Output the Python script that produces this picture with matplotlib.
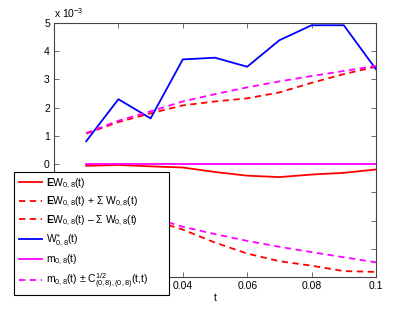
import numpy as np
import matplotlib
matplotlib.use("Agg")
import matplotlib.pyplot as plt
from matplotlib.ticker import FuncFormatter

plt.rcParams['font.family'] = ['Liberation Sans', 'DejaVu Sans']
plt.rcParams['mathtext.fontset'] = 'custom'
plt.rcParams['mathtext.rm'] = 'Liberation Sans'
plt.rcParams['mathtext.it'] = 'Liberation Sans:italic'
plt.rcParams['mathtext.bf'] = 'Liberation Sans:bold'

# values in units of 1e-3
t = [0.01, 0.02, 0.03, 0.04, 0.05, 0.06, 0.07, 0.08, 0.09, 0.1]
ew = [-0.06, -0.03, -0.08, -0.12, -0.28, -0.41, -0.46, -0.37, -0.31, -0.19]
ew_plus = [1.08, 1.49, 1.80, 2.08, 2.22, 2.33, 2.54, 2.88, 3.19, 3.45]
ew_minus = [-1.20, -1.55, -1.96, -2.32, -2.78, -3.17, -3.44, -3.60, -3.79, -3.82]
w_plus = [0.81, 2.30, 1.62, 3.71, 3.77, 3.45, 4.39, 4.92, 4.92, 3.36]
m = [0, 0, 0, 0, 0, 0, 0, 0, 0, 0]
m_sd = [1.10, 1.54, 1.87, 2.22, 2.48, 2.72, 2.93, 3.12, 3.30, 3.48]

# tick labels (the ones under the legend are blank, as in the original)
xtick_labels = ['', '', '0.04', '0.06', '0.08', '0.1']
ytick_labels = ['', '', '', '', '0', '1', '2', '3', '4', '5']

scale = 1e-3
ew = np.array(ew) * scale
ew_plus = np.array(ew_plus) * scale
ew_minus = np.array(ew_minus) * scale
w_plus = np.array(w_plus) * scale
m = np.array(m) * scale
m_sd = np.array(m_sd) * scale

fig = plt.figure(figsize=(4.15, 3.12), dpi=100)
ax = fig.add_axes([54/415, 1-277/312, 322/415, 254/312])

lw = 1.3
dash = (0, (3.5, 2.5))
ax.plot(t, ew, color='#ff0000', lw=lw, label=r'$\mathbf{E}$W$_{0,8}$(t)')
ax.plot(t, ew_plus, color='#ff0000', lw=lw, ls=dash,
        label=r'$\mathbf{E}$W$_{0,8}$(t) + Σ W$_{0,8}$(t)')
ax.plot(t, ew_minus, color='#ff0000', lw=lw, ls=dash,
        label=r'$\mathbf{E}$W$_{0,8}$(t) – Σ W$_{0,8}$(t)')
ax.plot(t, w_plus, color='#0000ff', lw=lw, label=r'W$^{+}_{0,8}$(t)')
ax.plot(t, m, color='#ff00ff', lw=lw, label=r'm$_{0,8}$(t)')
ax.plot(t, m + m_sd, color='#ff00ff', lw=lw, ls=dash,
        label=r'm$_{0,8}$(t) ± C$^{1/2}_{(0,8),(0,8)}$(t,t)')
ax.plot(t, m - m_sd, color='#ff00ff', lw=lw, ls=dash)

ax.set_xlim(0, 0.1)
ax.set_ylim(-4e-3, 5e-3)
ax.set_xticks([0, 0.02, 0.04, 0.06, 0.08, 0.1])
ax.set_xticklabels(xtick_labels)
ax.set_yticks(np.arange(-4, 6) * 1e-3)
ax.set_yticklabels(ytick_labels)
ax.tick_params(direction='in', top=True, right=True, length=3.5, width=0.6,
               labelsize=7.5, pad=3, color='#555555')
for s in ax.spines.values():
    s.set_linewidth(0.8)
    s.set_color('#444444')
ax.set_xlabel('t', fontsize=7.5, labelpad=1)
ax.text(0, 1.012, r'x 10$^{-3}$', transform=ax.transAxes, fontsize=7.5,
        ha='left', va='bottom')

leg = ax.legend(loc='upper left', bbox_to_anchor=(14/415, 1-171.7/312, 155/415, 0.0),
                bbox_transform=fig.transFigure, mode='expand', borderaxespad=0,
                fontsize=7.5, handlelength=2.2, handletextpad=0.4, labelspacing=0.4,
                borderpad=0.45, fancybox=False, framealpha=1, edgecolor='black')
leg.get_frame().set_linewidth(0.8)
leg.set_zorder(5)

fig.savefig('out.png', dpi=100)
